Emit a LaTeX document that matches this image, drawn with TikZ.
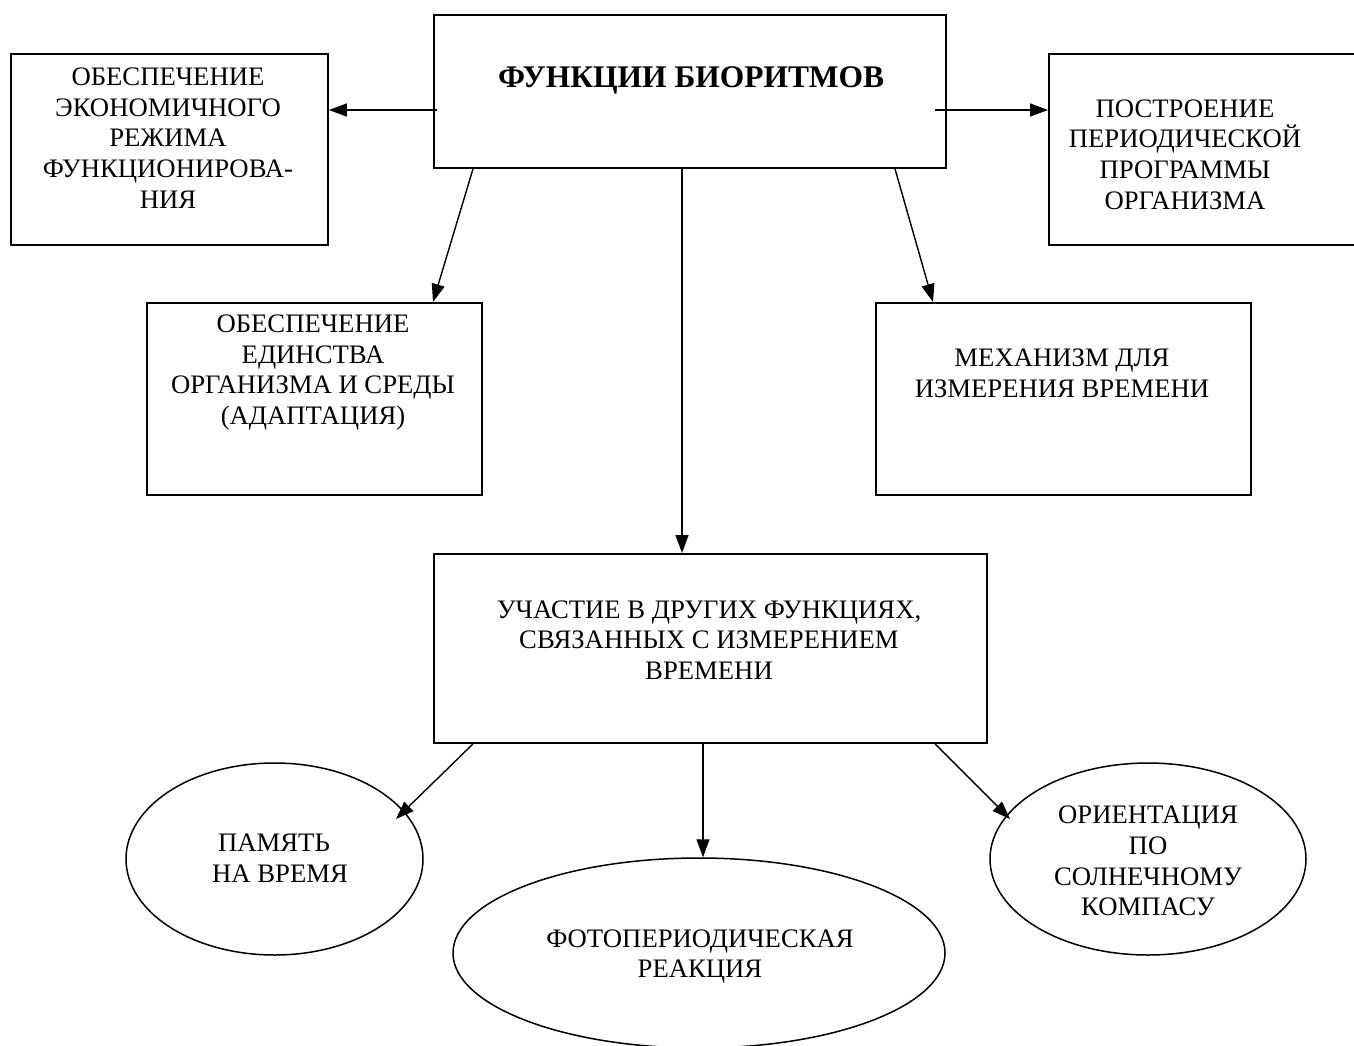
\documentclass[tikz,border=0pt]{standalone}
\usepackage{fontspec}
\setmainfont{Liberation Serif}
\usetikzlibrary{arrows.meta,calc,shapes.geometric}
\begin{document}
\begin{tikzpicture}[x=1pt,y=-1pt,
  box/.style={draw,line width=1.9pt,rectangle,anchor=north west,inner sep=0pt},
  oval/.style={draw,line width=1.5pt,ellipse,inner sep=0pt},
  txt/.style={align=center,inner sep=0pt,font=\fontsize{26.7}{30.7}\selectfont},
  ttl/.style={align=center,inner sep=0pt,font=\fontsize{31.5}{36}\selectfont\bfseries},
  arr/.style={line width=1.4pt,-{Triangle[length=18pt,width=13pt]}}]
\fill[white] (0,0) rectangle (1354,1046);
\useasboundingbox (0,0) rectangle (1354,1046);
% boxes
\node[box,minimum width=512pt,minimum height=153pt] (top) at (433,14) {};
\node[box,minimum width=317pt,minimum height=191pt] (lbox) at (10,53) {};
\node[box,minimum width=330pt,minimum height=191pt] (rbox) at (1048,53) {};
\node[box,minimum width=335pt,minimum height=192pt] (mlbox) at (146,302) {};
\node[box,minimum width=375pt,minimum height=192pt] (mrbox) at (875,302) {};
\node[box,minimum width=553pt,minimum height=189pt] (cbox) at (433,553) {};
% ellipses
\node[oval,minimum width=297pt,minimum height=192pt] (lell) at (274.5,859) {};
\node[oval,minimum width=316pt,minimum height=192pt] (rell) at (1148,859) {};
\node[oval,minimum width=492pt,minimum height=190pt] (bell) at (699,953) {};
% texts
\node[ttl] (ttop) at (691,80) {ФУНКЦИИ БИОРИТМОВ};
\node[txt] (tl) at (168,138) {ОБЕСПЕЧЕНИЕ\\ЭКОНОМИЧНОГО\\РЕЖИМА\\ФУНКЦИОНИРОВА-\\НИЯ};
\node[txt] (tr) at (1185,154.5) {ПОСТРОЕНИЕ\\ПЕРИОДИЧЕСКОЙ\\ПРОГРАММЫ\\ОРГАНИЗМА};
\node[txt] (tml) at (313,372.5) {ОБЕСПЕЧЕНИЕ\\ЕДИНСТВА\\ОРГАНИЗМА И СРЕДЫ\\(АДАПТАЦИЯ)};
\node[txt] (tmr) at (1062,373) {МЕХАНИЗМ ДЛЯ\\ИЗМЕРЕНИЯ ВРЕМЕНИ};
\node[txt] (tc) at (709,640) {УЧАСТИЕ В ДРУГИХ ФУНКЦИЯХ,\\СВЯЗАННЫХ С ИЗМЕРЕНИЕМ\\ВРЕМЕНИ};
\node[txt] (tle) at (274,858) {ПАМЯТЬ\\\hspace*{12pt}НА ВРЕМЯ};
\node[txt] (tbe) at (700,956.5) {ФОТОПЕРИОДИЧЕСКАЯ\\РЕАКЦИЯ};
\node[txt] (tre) at (1148,861) {ОРИЕНТАЦИЯ\\ПО\\СОЛНЕЧНОМУ\\КОМПАСУ};
% connectors
\draw[arr] ($(top.north west)+(4,96)$) -- ($(lbox.north east)+(0,57)$);
\draw[arr] ($(top.north east)+(-12,96)$) -- ($(rbox.north west)+(0,57)$);
\draw[arr] ($(top.south west)+(40,0)$) -- ($(mlbox.north west)+(287,0)$);
\draw[arr] ($(top.south west)+(462,0)$) -- ($(mrbox.north west)+(58,0)$);
\draw[arr] ($(top.south west)+(249,0)$) -- ($(cbox.north west)+(249,0)$);
\draw[arr] ($(cbox.south west)+(40,0)$) -- ($(lell.center)+(121.5,-40)$);
\draw[arr] ($(cbox.south west)+(270,0)$) -- ($(bell.north)+(4,0)$);
\draw[arr] ($(cbox.south west)+(502,0)$) -- ($(rell.center)+(-138,-40)$);
\end{tikzpicture}
\end{document}
